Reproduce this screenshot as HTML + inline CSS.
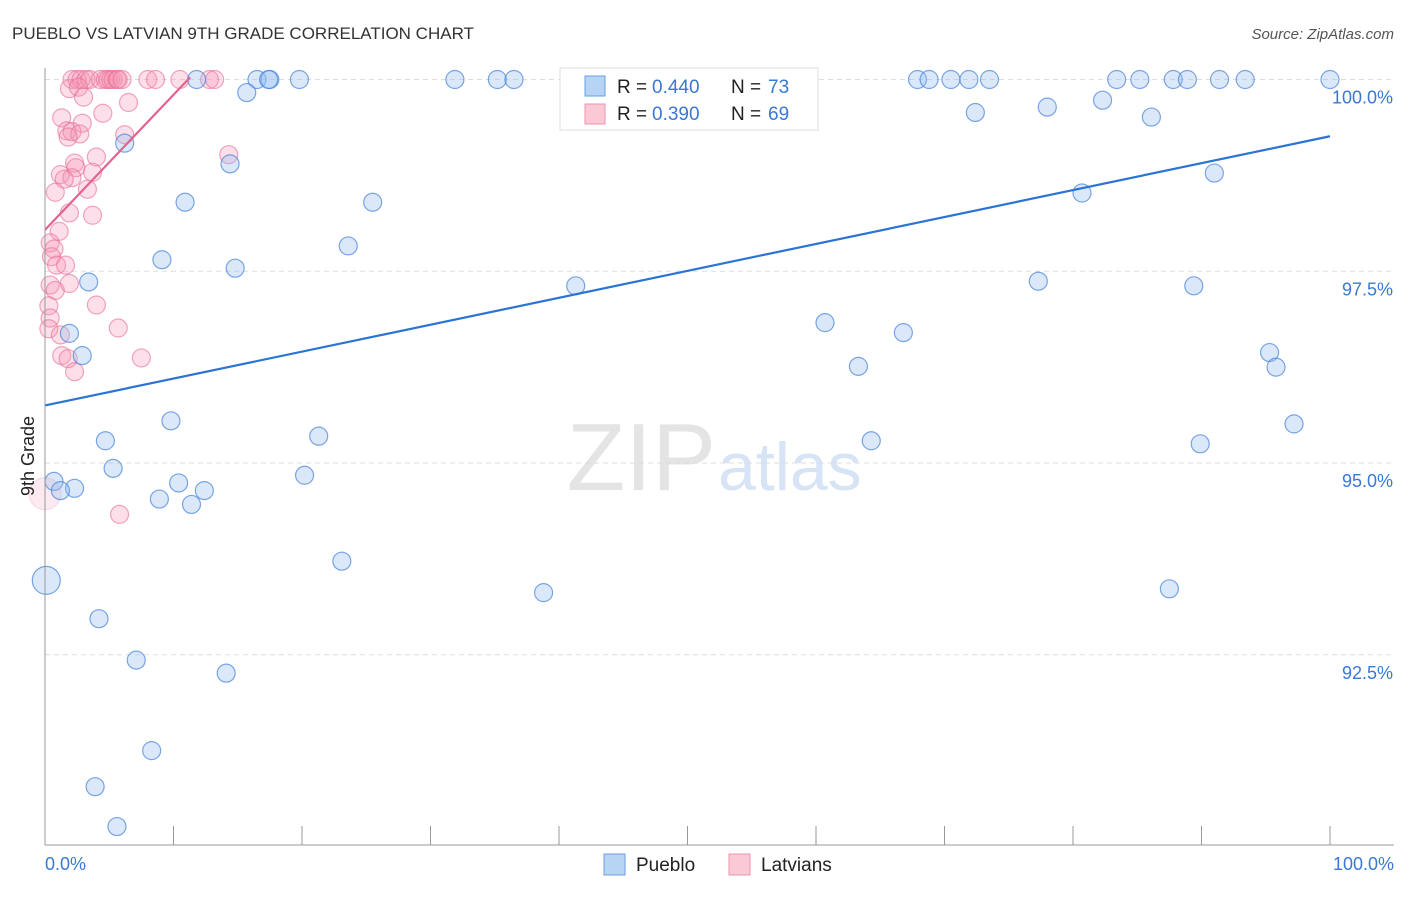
<!DOCTYPE html>
<html><head><meta charset="utf-8"><style>
body{margin:0;background:#fff;font-family:"Liberation Sans",sans-serif;}
svg text{font-family:"Liberation Sans",sans-serif;}
</style></head><body>
<svg id="chart" width="1406" height="892">
<text x="12" y="39" font-size="17" fill="#333">PUEBLO VS LATVIAN 9TH GRADE CORRELATION CHART</text>
<text x="1394" y="39" font-size="15" fill="#555" font-style="italic" text-anchor="end">Source: ZipAtlas.com</text>
<text x="716" y="490" font-size="96" fill="#e4e4e4" text-anchor="end" font-family="Liberation Serif">ZIP</text>
<text x="718" y="490" font-size="68" fill="#d6e4f5">atlas</text>
<g id="grid"></g><g id="marks"></g>
<line x1="45" y1="68" x2="45" y2="845" stroke="#999"/>
<line x1="45" y1="845" x2="1394" y2="845" stroke="#999"/>
<text transform="translate(34,456) rotate(-90)" font-size="18" fill="#222" text-anchor="middle">9th Grade</text>
<text x="45" y="870" font-size="18" fill="#3a78d4">0.0%</text>
<text x="1394" y="870" font-size="18" fill="#3a78d4" text-anchor="end">100.0%</text>
<g>
<rect x="560" y="68" width="258" height="62" fill="#fff" stroke="#ddd"/>
<rect x="585" y="76" width="20" height="20" fill="#b8d4f4" stroke="#6a9ee0"/>
<rect x="585" y="104" width="20" height="20" fill="#fbc8d6" stroke="#ee93ae"/>
<text x="617" y="93" font-size="19" fill="#222">R =</text>
<text x="652" y="93" font-size="19" fill="#3a78d4">0.440</text>
<text x="731" y="93" font-size="19" fill="#222">N =</text>
<text x="768" y="93" font-size="19" fill="#3a78d4">73</text>
<text x="617" y="120" font-size="19" fill="#222">R =</text>
<text x="652" y="120" font-size="19" fill="#3a78d4">0.390</text>
<text x="731" y="120" font-size="19" fill="#222">N =</text>
<text x="768" y="120" font-size="19" fill="#3a78d4">69</text>
</g>
<g><rect x="604" y="854" width="21" height="21" fill="#b8d4f4" stroke="#6a9ee0"/><text x="636" y="871" font-size="19" fill="#222">Pueblo</text></g>
<g><rect x="729" y="854" width="21" height="21" fill="#fbc8d6" stroke="#ee93ae"/><text x="761" y="871" font-size="19" fill="#222">Latvians</text></g>
</svg>
<script>
const yTicks=[100,97.5,95,92.5];
const yTickLabels=["100.0%","97.5%","95.0%","92.5%"];
const xTicks=[0,10,20,30,40,50,60,70,80,90,100];
const blueX=[11.8,16.5,17.5,17.4,19.8,31.9,35.2,36.5,42.2,45.8,46.9,67.9,68.8,70.5,71.9,73.5,83.4,85.2,87.8,88.9,91.4,93.4,100,15.7,72.4,78,82.3,86.1,6.2,14.4,91,10.9,25.5,80.7,23.6,9.1,14.8,3.4,41.3,77.3,89.4,60.7,66.8,1.9,2.9,63.3,95.3,95.8,9.8,4.7,21.3,64.3,89.9,97.2,5.3,0.7,20.2,2.3,1.2,10.4,8.9,12.4,11.4,23.1,38.8,87.5,0.1,4.2,7.1,14.1,8.3,3.9,5.6];
const blueY=[100,100,100,100,100,100,100,100,100,100,100,100,100,100,100,100,100,100,100,100,100,100,100,99.83,99.57,99.64,99.73,99.51,99.17,98.9,98.78,98.4,98.4,98.52,97.83,97.65,97.54,97.36,97.31,97.37,97.31,96.83,96.7,96.69,96.4,96.26,96.44,96.25,95.55,95.29,95.35,95.29,95.25,95.51,94.93,94.76,94.84,94.67,94.64,94.74,94.53,94.64,94.46,93.72,93.31,93.36,93.47,92.97,92.43,92.26,91.25,90.78,90.26];
const blueR=[9,9,9,9,9,9,9,9,9,9,9,9,9,9,9,9,9,9,9,9,9,9,9,9,9,9,9,9,9,9,9,9,9,9,9,9,9,9,9,9,9,9,9,9,9,9,9,9,9,9,9,9,9,9,9,9,9,9,9,9,9,9,9,9,9,9,14,9,9,9,9,9,9];
const pinkX=[2.1,2.5,2.8,3.2,3.5,4.3,4.7,4.9,5.1,5.3,5.6,5.7,6,8,8.6,10.5,12.8,13.2,1.9,2.6,3,6.5,4.5,1.3,2.9,1.7,2.1,2.7,1.8,6.2,4.0,2.3,2.4,1.2,2.1,1.5,3.7,14.3,0.8,3.3,1.9,3.7,1.1,0.4,0.7,0.5,0.9,1.6,0.4,0.8,1.9,4,0.3,0.4,5.7,0.3,1.2,1.3,1.8,7.5,2.3,5.8,0];
const pinkY=[100,100,100,100,100,100,100,100,100,100,100,100,100,100,100,100,100,100,99.88,99.9,99.77,99.7,99.56,99.5,99.43,99.33,99.32,99.29,99.25,99.28,98.99,98.91,98.85,98.76,98.72,98.7,98.79,99.02,98.53,98.57,98.26,98.23,98.02,97.87,97.79,97.69,97.58,97.58,97.32,97.25,97.34,97.06,97.05,96.89,96.76,96.75,96.67,96.4,96.36,96.37,96.19,94.33,94.6];
const pinkR=[9,9,9,9,9,9,9,9,9,9,9,9,9,9,9,9,9,9,9,9,9,9,9,9,9,9,9,9,9,9,9,9,9,9,9,9,9,9,9,9,9,9,9,9,9,9,9,9,9,9,9,9,9,9,9,9,9,9,9,9,9,9,16];
const blueTrend=[[0,95.75],[100,99.26]];
const pinkTrend=[[0,98.04],[11.3,100.03]];
const X=v=>45+v*12.85;
const Y=v=>79.5+(100-v)*76.7;
const NS="http://www.w3.org/2000/svg";
const grid=document.getElementById('grid'),marks=document.getElementById('marks');
function mk(tag,at,parent){const e=document.createElementNS(NS,tag);for(const k in at)e.setAttribute(k,at[k]);parent.appendChild(e);return e;}
yTicks.forEach((t,i)=>{
 const l=mk('line',{x1:45,x2:1394,y1:Y(t),y2:Y(t),stroke:'#ddd','stroke-dasharray':'5,4'},grid);
 
 
 const tx=mk('text',{x:1393,y:Y(t)+24,'font-size':18,fill:'#3a78d4','text-anchor':'end'},grid);
 tx.textContent=yTickLabels[i];
 
 
});
xTicks.forEach(t=>{
 const l=mk('line',{x1:X(t),x2:X(t),y1:826,y2:845,stroke:'#999'},grid);
 
 
});
pinkX.forEach((x,i)=>{
 const big=(pinkR[i]||9)>12;
 const c=mk('circle',{cx:X(x),cy:Y(pinkY[i]),r:pinkR[i]||9,fill:big?'rgba(244,150,178,0.2)':'rgba(244,150,178,0.3)',stroke:big?'rgba(232,110,150,0.2)':'rgba(232,110,150,0.6)','stroke-width':1.2},marks);
 
 
});
blueX.forEach((x,i)=>{
 const c=mk('circle',{cx:X(x),cy:Y(blueY[i]),r:blueR[i]||9,fill:'rgba(150,190,240,0.35)',stroke:'rgba(70,130,215,0.7)','stroke-width':1.2},marks);
 
 
});
const bl=mk('line',{x1:X(blueTrend[0][0]),y1:Y(blueTrend[0][1]),x2:X(blueTrend[1][0]),y2:Y(blueTrend[1][1]),stroke:'#2a74d4','stroke-width':2.2},marks);


const pl=mk('line',{x1:X(pinkTrend[0][0]),y1:Y(pinkTrend[0][1]),x2:X(pinkTrend[1][0]),y2:Y(pinkTrend[1][1]),stroke:'#e4628c','stroke-width':2.2},marks);


</script>
</body></html>
